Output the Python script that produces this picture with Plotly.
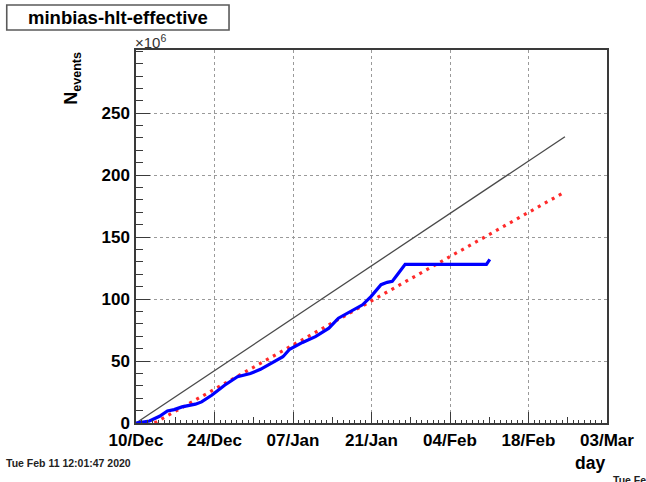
import plotly.graph_objects as go

# ---------------- data ----------------
# days counted from 10/Dec
blue_day = [0, 2.4, 4.2, 5.6, 6.8, 8.2, 10.6, 11.7, 13.5, 15.8, 18.1, 20.4, 22.2,
            24.5, 26.2, 27.4, 29.7, 32.0, 34.4, 36.1, 38.4, 40.4, 41.9, 42.5,
            43.7, 44.8, 45.7, 46.6, 48.0, 62.5, 63.1]
blue_val = [0, 1.6, 5.4, 9.7, 10.8, 13.0, 15.2, 17.0, 22.4, 30.5, 37.3, 40.0, 43.3,
            49.4, 53.5, 59.5, 65.0, 69.7, 76.5, 84.6, 90.0, 95.4, 102.0, 105.0,
            111.6, 113.5, 114.3, 119.7, 128.0, 128.0, 132.0]

black_day = [0, 76.5]
black_val = [0, 231]

red_day = [3.3, 75.9]
red_val = [0, 185]

x_tick_days = [0, 14, 28, 42, 56, 70, 84]
x_tick_text = ["10/Dec", "24/Dec", "07/Jan", "21/Jan", "04/Feb", "18/Feb", "03/Mar"]
y_tick_vals = [0, 50, 100, 150, 200, 250]
y_tick_text = ["0", "50", "100", "150", "200", "250"]

title_text = "minbias-hlt-effective"
stamp_text = "Tue Feb 11 12:01:47 2020"

# ---------------- figure ----------------
FONT = "Liberation Sans, Arial, Helvetica, sans-serif"
W, H = 646, 482
ML, MR, MT, MB = 136, 29, 50, 59
PW, PH = W - ML - MR, H - MT - MB


def px(xp):
    return (xp - ML) / PW


def py(yp):
    return (H - MB - yp) / PH


fig = go.Figure()

fig.add_trace(go.Scatter(x=black_day, y=black_val, mode="lines",
                         line=dict(color="#4a4a4a", width=1.3),
                         showlegend=False, hoverinfo="skip"))
fig.add_trace(go.Scatter(x=red_day, y=red_val, mode="lines",
                         line=dict(color="#ff2a2a", width=3.2, dash="3px,5px"),
                         showlegend=False, hoverinfo="skip"))
fig.add_trace(go.Scatter(x=blue_day, y=blue_val, mode="lines",
                         line=dict(color="#0000ff", width=3.2),
                         showlegend=False))
# carrier for the secondary (7-day) tick axis
fig.add_trace(go.Scatter(x=[], y=[], xaxis="x2", yaxis="y", showlegend=False))

axis_line = "#3a3a3a"
grid_col = "#9a9a9a"
tickfont = dict(family=FONT, size=17, color="black", weight="bold")

fig.update_layout(
    width=W, height=H,
    margin=dict(l=ML, r=MR, t=MT, b=MB, pad=0),
    paper_bgcolor="white", plot_bgcolor="white",
    font=dict(family=FONT),
    xaxis=dict(
        range=[0, 84.001], tickmode="array",
        tickvals=x_tick_days, ticktext=x_tick_text,
        ticks="inside", ticklen=11, tickcolor=axis_line, tickwidth=1,
        minor=dict(dtick=1, tick0=0, ticks="inside", ticklen=3,
                   tickcolor=axis_line, showgrid=False),
        showgrid=True, gridcolor=grid_col, griddash="dot", gridwidth=1,
        showline=True, linecolor=axis_line, linewidth=1.5, mirror=True,
        zeroline=False, tickfont=tickfont, ticklabelstandoff=1,
    ),
    xaxis2=dict(
        overlaying="x", anchor="y", side="bottom",
        range=[0, 84.001], tickmode="linear", tick0=0, dtick=7,
        ticks="inside", ticklen=6, tickcolor=axis_line, tickwidth=1,
        showticklabels=False, showgrid=False, showline=False, zeroline=False,
    ),
    yaxis=dict(
        range=[0, 301], tickmode="array",
        tickvals=y_tick_vals, ticktext=y_tick_text,
        ticks="inside", ticklen=14, tickcolor=axis_line, tickwidth=1,
        minor=dict(dtick=10, tick0=0, ticks="inside", ticklen=7,
                   tickcolor=axis_line, showgrid=False),
        showgrid=True, gridcolor=grid_col, griddash="dot", gridwidth=1,
        showline=True, linecolor=axis_line, linewidth=1.5, mirror=True,
        zeroline=False, tickfont=tickfont, ticklabelstandoff=1,
    ),
    shapes=[dict(type="rect", xref="paper", yref="paper",
                 x0=px(4), x1=px(231), y0=py(30), y1=py(5),
                 line=dict(color="#5a5a5a", width=1.6), fillcolor="white")],
    annotations=[
        dict(text=title_text, xref="paper", yref="paper",
             x=px(117.5), y=py(17.5), xanchor="center", yanchor="middle",
             showarrow=False,
             font=dict(family=FONT, size=18.5, color="black", weight="bold")),
        dict(text="×10<sup>6</sup>", xref="paper", yref="paper",
             x=px(133), y=1, xanchor="left", yanchor="bottom", yshift=-3,
             showarrow=False, font=dict(family=FONT, size=15, color="#333")),
        dict(text="N<sub>events</sub>", xref="paper", yref="paper",
             x=px(71), y=1, xanchor="center", yanchor="top", textangle=-90,
             showarrow=False,
             font=dict(family=FONT, size=18, color="black", weight="bold")),
        dict(text="day", xref="paper", yref="paper",
             x=1, y=py(463), xanchor="right", yanchor="middle",
             showarrow=False,
             font=dict(family=FONT, size=17.5, color="black", weight="bold")),
        dict(text=stamp_text, xref="paper", yref="paper",
             x=px(1), y=py(463), xanchor="left", yanchor="middle",
             showarrow=False,
             font=dict(family=FONT, size=10.5, color="#222", weight="bold")),
        dict(text=stamp_text, xref="paper", yref="paper",
             x=px(621), y=py(479.5), xanchor="left", yanchor="middle",
             showarrow=False,
             font=dict(family=FONT, size=10.5, color="#222", weight="bold")),
    ],
)

fig.write_html("out.html", config={"displayModeBar": False})

with open("out.html", "r", encoding="utf-8") as f:
    html = f.read()
html = html.replace("<body>", '<body style="margin:0;overflow:hidden">', 1)
with open("out.html", "w", encoding="utf-8") as f:
    f.write(html)
